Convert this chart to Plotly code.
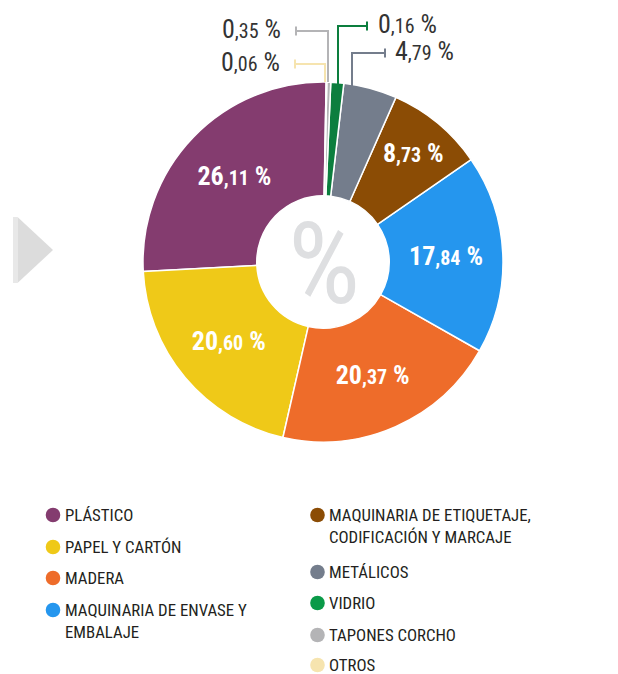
import plotly.graph_objects as go

# ---------------- data ----------------
categories = ["PLÁSTICO", "PAPEL Y CARTÓN", "MADERA", "MAQUINARIA DE ENVASE Y EMBALAJE",
              "MAQUINARIA DE ETIQUETAJE, CODIFICACIÓN Y MARCAJE", "METÁLICOS", "VIDRIO",
              "TAPONES CORCHO", "OTROS"]
values = [26.11, 20.60, 20.37, 17.84, 8.73, 4.79, 1.16, 0.35, 0.06]
value_labels = ["26,11", "20,60", "20,37", "17,84", "8,73", "4,79", "0,16", "0,35", "0,06"]
legend_labels = ["PLÁSTICO", "PAPEL Y CARTÓN", "MADERA", "MAQUINARIA DE ENVASE Y<br>EMBALAJE",
                 "MAQUINARIA DE ETIQUETAJE,<br>CODIFICACIÓN Y MARCAJE", "METÁLICOS", "VIDRIO",
                 "TAPONES CORCHO", "OTROS"]
colors = ["#843C6F", "#EFC918", "#EE6C2A", "#2596EE", "#8B4C05", "#747D8C", "#0C7E3E",
          "#B4B4B6", "#F6E4AF"]
legend_colors = ["#843C6F", "#EFC918", "#EE6C2A", "#2596EE", "#8B4C05", "#747D8C", "#0A9A48",
                 "#B4B4B6", "#F6E4AF"]
inside = [True, True, True, True, True, False, False, False, False]

W, H = 618, 674
FONT = "Liberation Sans Narrow, Roboto Condensed, DejaVu Sans Condensed, Arial, sans-serif"


def X(p):
    return p / W


def Y(p):
    return 1 - p / H


def split_label(s, small, bold=False):
    ip, dp = s.split(",")
    t = f"{ip}<span style='font-size:{small}px'>,{dp}</span> %"
    return f"<b>{t}</b>" if bold else t


cx, cy, R = 323, 262, 180
total = sum(values)
start_angle = 1.0  # degrees clockwise from 12 o'clock where the last slice ends
rotation = start_angle - values[0] / total * 360

texts = [split_label(v, 20, bold=True) if ins else "" for v, ins in zip(value_labels, inside)]

fig = go.Figure()
fig.add_trace(go.Pie(
    labels=categories,
    values=values,
    text=texts,
    textinfo="text",
    textposition=["inside" if i else "none" for i in inside],
    insidetextorientation="horizontal",
    textfont=dict(family=FONT, size=26, color="white"),
    marker=dict(colors=colors, line=dict(color="white", width=1.5)),
    hole=0.368,
    sort=False,
    direction="counterclockwise",
    rotation=rotation,
    showlegend=False,
    hoverinfo="label+percent",
    domain=dict(x=[X(cx - R), X(cx + R)], y=[Y(cy + R), Y(cy - R)]),
))

shapes = []
annotations = []

# center % sign
annotations.append(dict(x=X(cx + 1), y=Y(cy + 2), xref="paper", yref="paper", text="%",
                        showarrow=False, font=dict(family=FONT, size=114, color="#DEDFE1"),
                        xanchor="center", yanchor="middle"))

# leader lines for the small slices: (index, vertical x, y bottom, y elbow, x end, side, label x)
leaders = [
    (8, 325, 82, 64, 295, "left", 282),
    (7, 328, 82, 31, 296, "left", 283),
    (6, 338, 84, 26, 367, "right", 376),
    (5, 352, 86, 53, 385, "right", 393),
]
for idx, vx, yb, ye, xe, side, lx in leaders:
    col = colors[idx]
    shapes.append(dict(type="path", xref="paper", yref="paper",
                       path=f"M{X(vx)},{Y(yb)} L{X(vx)},{Y(ye)} L{X(xe)},{Y(ye)}",
                       line=dict(color=col, width=2)))
    shapes.append(dict(type="line", xref="paper", yref="paper",
                       x0=X(xe), x1=X(xe), y0=Y(ye - 4.5), y1=Y(ye + 4.5),
                       line=dict(color=col, width=2)))
    annotations.append(dict(x=X(lx), y=Y(ye - 2), xref="paper", yref="paper",
                            text=split_label(value_labels[idx], 20),
                            showarrow=False, font=dict(family=FONT, size=26, color="#333333"),
                            xanchor="right" if side == "left" else "left", yanchor="middle"))

# decorative triangle on the left
shapes.append(dict(type="rect", xref="paper", yref="paper", x0=X(13), x1=X(17.5), y0=Y(283), y1=Y(217),
                   fillcolor="#E8E8E8", line=dict(width=0)))
shapes.append(dict(type="path", xref="paper", yref="paper",
                   path=f"M{X(17.5)},{Y(217)} L{X(53)},{Y(250)} L{X(17.5)},{Y(283)} Z",
                   fillcolor="#DCDCDC", line=dict(width=0)))

# custom two-column legend
legend_pos = [
    (53, 515), (53, 547), (53, 578), (53, 610),
    (317.5, 515), (317.5, 572), (317.5, 603), (317.5, 635), (317.5, 665),
]
for lab, col, (lx, ly) in zip(legend_labels, legend_colors, legend_pos):
    r = 7.3
    shapes.append(dict(type="circle", xref="paper", yref="paper",
                       x0=X(lx - r), x1=X(lx + r), y0=Y(ly + r), y1=Y(ly - r),
                       fillcolor=col, line=dict(width=0)))
    annotations.append(dict(x=X(lx + 10.5), y=Y(ly - 11.5), xref="paper", yref="paper",
                            text=lab, showarrow=False, align="left",
                            font=dict(family=FONT, size=16.8, color="#231F20"),
                            xanchor="left", yanchor="top", borderpad=0))

fig.update_layout(
    width=W, height=H,
    margin=dict(l=0, r=0, t=0, b=0),
    paper_bgcolor="white", plot_bgcolor="white",
    shapes=shapes, annotations=annotations,
    font=dict(family=FONT),
)

fig.write_html("out.html", post_script="document.body.style.margin='0';",
               config={"displayModeBar": False})
